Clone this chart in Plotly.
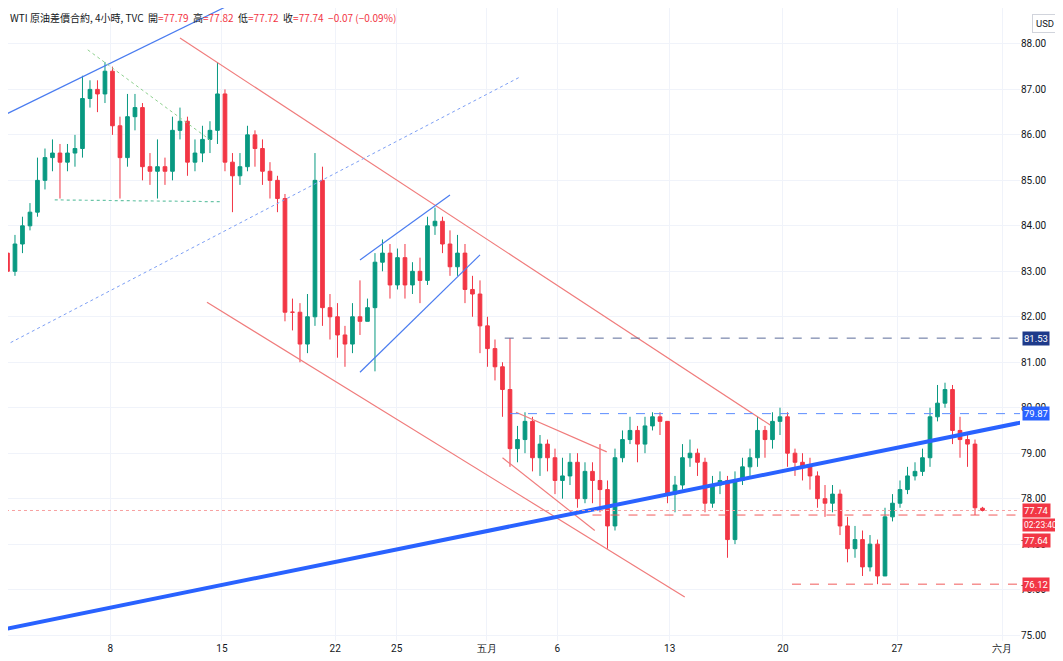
import plotly.graph_objects as go

# 4h WTI bars (coarser sampling)
opens = [83.2, 83.4, 83.0, 83.6, 84.0, 84.3, 85.0, 85.5, 85.6, 85.4,
         85.6, 85.7, 86.8, 87.0, 86.9, 87.4, 86.2, 85.5, 86.4, 86.6,
         85.3, 85.2, 85.3, 85.2, 86.1, 86.3, 85.4, 85.6, 85.9, 86.1,
         86.9, 85.4, 85.1, 85.3, 86.0, 85.7, 85.2, 85.0, 84.6, 82.1,
         82.1, 81.4, 82.0, 85.0, 82.2, 82.0, 81.6, 81.4, 82.0, 81.9,
         82.2, 83.2, 83.4, 82.7, 83.3, 82.7, 83.0, 82.8, 84.0, 84.1,
         83.6, 83.1, 83.4, 82.6, 82.5, 81.8, 81.3, 80.9, 80.4, 79.1,
         79.3, 79.7, 78.9, 79.2, 78.9, 78.4, 78.5, 78.8, 78.0, 78.6,
         78.4, 78.2, 77.4, 78.9, 79.3, 79.5, 79.2, 79.6, 79.8, 79.7,
         78.1, 78.3, 78.9, 79.0, 78.8, 77.9, 78.3, 78.4, 77.1, 78.4,
         78.7, 78.9, 79.5, 79.3, 79.7, 79.8, 79.0, 78.8, 78.7, 78.5,
         78.0, 77.9, 78.1, 77.4, 76.9, 77.1, 76.5, 77.0, 76.3, 77.6,
         77.9, 78.2, 78.5, 78.6, 78.9, 79.8, 80.1, 80.4, 79.5, 79.3,
         79.2, 77.79]
closes = [83.4, 83.0, 83.6, 84.0, 84.3, 85.0, 85.5, 85.6, 85.4, 85.6,
          85.7, 86.8, 87.0, 86.9, 87.4, 86.2, 85.5, 86.4, 86.6, 85.3,
          85.2, 85.3, 85.2, 86.1, 86.3, 85.4, 85.6, 85.9, 86.1, 86.9,
          85.4, 85.1, 85.3, 86.0, 85.7, 85.2, 85.0, 84.6, 82.1, 82.1,
          81.4, 82.0, 85.0, 82.2, 82.0, 81.6, 81.4, 82.0, 81.9, 82.2,
          83.2, 83.4, 82.7, 83.3, 82.7, 83.0, 82.8, 84.0, 84.1, 83.6,
          83.1, 83.4, 82.6, 82.5, 81.8, 81.3, 80.9, 80.4, 79.1, 79.3,
          79.7, 78.9, 79.2, 78.9, 78.4, 78.5, 78.8, 78.0, 78.6, 78.4,
          78.2, 77.4, 78.9, 79.3, 79.5, 79.2, 79.6, 79.8, 79.7, 78.1,
          78.3, 78.9, 79.0, 78.8, 77.9, 78.3, 78.4, 77.1, 78.4, 78.7,
          78.9, 79.5, 79.3, 79.7, 79.8, 79.0, 78.8, 78.7, 78.5, 78.0,
          77.9, 78.1, 77.4, 76.9, 77.1, 76.5, 77.0, 76.3, 77.6, 77.9,
          78.2, 78.5, 78.6, 78.9, 79.8, 80.1, 80.4, 79.5, 79.3, 79.2,
          77.8, 77.74]
highs = [83.6, 83.5, 83.8, 84.2, 84.5, 85.5, 85.7, 85.9, 85.8, 85.8,
         86.0, 87.3, 87.2, 87.2, 87.6, 87.5, 86.4, 86.9, 86.9, 86.7,
         85.6, 85.9, 85.5, 86.4, 86.6, 86.4, 85.9, 86.2, 86.3, 87.6,
         87.0, 85.6, 85.6, 86.2, 86.1, 85.9, 85.4, 85.1, 84.7, 82.4,
         82.3, 82.5, 85.6, 85.3, 82.5, 82.3, 81.8, 82.3, 82.8, 82.4,
         83.4, 83.7, 83.6, 83.5, 83.6, 83.2, 83.3, 84.2, 84.4, 84.2,
         83.9, 83.8, 83.6, 82.9, 82.8, 82.0, 81.5, 81.0, 81.53, 79.6,
         79.9, 79.8, 79.4, 79.3, 79.1, 78.9, 79.0, 79.0, 78.8, 78.8,
         79.2, 78.4, 79.1, 79.5, 79.8, 79.6, 79.8, 79.9, 79.9, 79.7,
         78.5, 79.2, 79.3, 79.1, 78.9, 78.5, 78.6, 78.5, 78.6, 78.9,
         79.1, 79.8, 79.6, 79.9, 80.0, 79.9, 79.1, 79.0, 78.9, 78.6,
         78.3, 78.3, 78.2, 77.6, 77.4, 77.3, 77.2, 77.1, 77.8, 78.1,
         78.4, 78.7, 78.8, 79.1, 80.0, 80.5, 80.55, 80.5, 79.8, 79.4,
         79.3, 77.82]
lows = [82.9, 82.6, 82.9, 83.4, 83.9, 84.2, 84.8, 85.2, 84.6, 85.2,
        85.3, 85.5, 86.6, 86.5, 86.7, 86.0, 84.6, 85.3, 86.1, 85.0,
        84.9, 84.6, 84.9, 85.0, 85.9, 85.1, 85.2, 85.4, 85.6, 85.8,
        85.2, 84.3, 84.9, 85.2, 85.3, 84.9, 84.6, 84.3, 81.9, 81.7,
        81.0, 81.2, 81.8, 81.8, 81.5, 81.1, 80.9, 81.2, 81.6, 81.9,
        80.8, 83.0, 82.4, 82.6, 82.4, 82.5, 82.3, 82.7, 83.8, 83.4,
        82.9, 82.9, 82.3, 82.0, 81.2, 80.9, 80.6, 79.8, 78.7, 78.8,
        79.0, 78.6, 78.5, 78.6, 78.1, 78.0, 78.3, 77.8, 77.9, 77.9,
        77.7, 76.9, 77.3, 78.8, 79.2, 78.8, 79.0, 79.5, 79.4, 77.9,
        77.7, 78.2, 78.7, 78.5, 77.7, 77.8, 78.1, 76.7, 77.0, 78.3,
        78.5, 78.7, 78.9, 79.1, 79.4, 78.7, 78.5, 78.4, 78.2, 77.8,
        77.6, 77.7, 77.2, 76.6, 76.7, 76.3, 76.4, 76.12, 76.3, 77.5,
        77.8, 78.1, 78.4, 78.5, 78.7, 79.7, 80.0, 79.2, 78.9, 78.7,
        77.64, 77.72]
bar_idx = list(range(len(closes)))

tick_pos = [14.7, 29.6, 44.7, 52.9, 64.9, 74.3, 89.3, 104.4, 119.6, 133.6]
tick_text = ['8', '15', '22', '25', '五月', '6', '13', '20', '27', '六月']
price_ticks = [75 + k for k in range(14)]

# trend lines drawn on the chart: (x0, y0, x1, y1, colour, width, dash)
trend_lines = [
    (0, 86.39, 32, 88.97, '#4a7cf0', 1.2, 'solid'),
    (11.7, 87.87, 28, 85.89, '#8fd18f', 1, 'dot'),
    (7.3, 84.57, 29.6, 84.53, '#6cc5a8', 1.2, 'dot'),
    (24, 88.13, 102.7, 79.62, '#f07c7c', 1.2, 'solid'),
    (27.6, 82.32, 91.3, 75.84, '#f07c7c', 1.2, 'solid'),
    (0, 81.31, 69.3, 87.27, '#7d9ff5', 1, 'dot'),
    (48, 83.25, 60, 84.68, '#4a7cf0', 1.2, 'solid'),
    (48, 80.78, 64, 83.36, '#4a7cf0', 1.2, 'solid'),
    (68.8, 79.9, 80.9, 79.03, '#f07c7c', 1.2, 'solid'),
    (67, 78.9, 79.3, 77.3, '#f07c7c', 1.2, 'solid'),
    (0, 75.11, 136.3, 79.68, '#2962ff', 4, 'solid'),
]
# horizontal levels: (start index, price, colour, dash)
levels = [
    (67.3, 81.53, '#5b6b9a', 'dash'),
    (68, 79.87, '#5b8cff', 'dash'),
    (79, 77.64, '#f05a5a', 'dash'),
    (105.6, 76.12, '#f05a5a', 'dash'),
    (0, 77.74, '#f7a0a0', 'dot'),
]
# price labels on the axis: (price, text, colour, font size)
price_labels = [
    (81.53, '81.53', '#1e3a8a', 9.5),
    (79.87, '79.87', '#2962ff', 9.5),
    (77.74, '77.74', '#f23645', 9.5),
    (77.42, '02:23:40', '#f23645', 8.5),
    (77.07, '77.64', '#f23645', 9.5),
    (76.12, '76.12', '#f23645', 9.5),
]

fig = go.Figure(go.Candlestick(
    x=bar_idx, open=opens, high=highs, low=lows, close=closes,
    increasing=dict(line=dict(color='#089981', width=1), fillcolor='#089981'),
    decreasing=dict(line=dict(color='#f23645', width=1), fillcolor='#f23645'),
    whiskerwidth=0, showlegend=False, hoverinfo='skip'))

for x0, y0, x1, y1, col, w, dash in trend_lines:
    fig.add_shape(type='line', x0=x0, y0=y0, x1=x1, y1=y1, xref='x', yref='y',
                  line=dict(color=col, width=w, dash=dash))
for x0, p, col, dash in levels:
    fig.add_shape(type='line', x0=x0, x1=136, y0=p, y1=p, xref='x', yref='y',
                  line=dict(color=col, width=1, dash=dash))

for p, txt, col, fs in price_labels:
    fig.add_annotation(x=1.002, y=p, xref='paper', yref='y', text=txt,
                       showarrow=False, xanchor='left', bgcolor=col,
                       font=dict(color='white', size=fs, family='Roboto'),
                       borderpad=1)

fig.add_annotation(x=0.0, y=1.0, xref='paper', yref='paper', showarrow=False,
                   xanchor='left', yanchor='top',
                   text='WTI 原油差價合約, 4小時, TVC  開<span style="color:#f23645">=77.79</span>'
                        '  高<span style="color:#f23645">=77.82</span>'
                        '  低<span style="color:#f23645">=77.72</span>'
                        '  收<span style="color:#f23645">=77.74  −0.07 (−0.09%)</span>',
                   font=dict(size=10, color='#131722', family='Noto Sans CJK TC'))
fig.add_annotation(x=1.012, y=0.99, xref='paper', yref='paper', showarrow=False,
                   text='USD', font=dict(size=9.5, color='#131722'), xanchor='left',
                   bordercolor='#d1d4dc', borderwidth=1, borderpad=3)

fig.update_layout(
    width=1055, height=653,
    margin=dict(l=0, r=43, t=0, b=20, autoexpand=False),
    paper_bgcolor='white', plot_bgcolor='white',
    font=dict(family='Roboto', size=10, color='#131722'),
    xaxis=dict(range=[1.07, 136], tickvals=tick_pos, ticktext=tick_text,
               rangeslider=dict(visible=False), showgrid=True,
               gridcolor='#f0f3fa', zeroline=False, ticks='', fixedrange=True),
    yaxis=dict(range=[74.87, 88.79], side='right', tickvals=price_ticks,
               tickformat='.2f', showgrid=True, gridcolor='#f0f3fa',
               zeroline=False, ticks=''),
)

fig.write_html("out.html")
